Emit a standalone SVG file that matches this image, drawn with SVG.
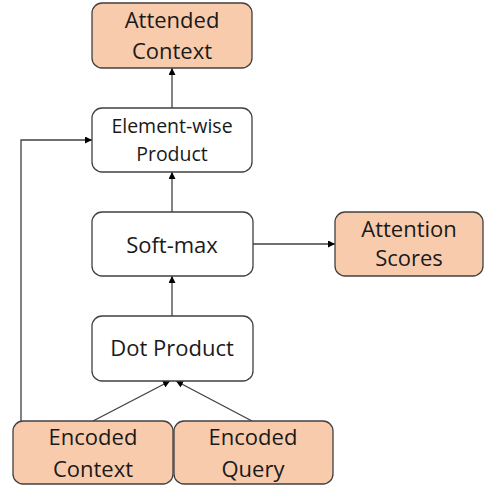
<svg xmlns="http://www.w3.org/2000/svg" width="485" height="486" viewBox="0 0 485 486">
  <style>
    .box { fill: #ffffff; stroke: #404040; stroke-width: 1.3; }
    .io { fill: #f8cbad; stroke: #404040; stroke-width: 1.3; }
    text { font-family: "Open Sans", "Noto Sans", sans-serif; fill: #1a1a1a; text-anchor: middle; }
    .t20 { font-size: 22px; }
    .t17 { font-size: 19.5px; }
    .edge { fill: none; stroke: #404040; stroke-width: 1.3; }
  </style>
  <defs>
    <marker id="arrow" viewBox="0 0 10 10" refX="10" refY="5" markerWidth="7" markerHeight="7" markerUnits="userSpaceOnUse" orient="auto">
      <path d="M0,0 L10,5 L0,10 Z" fill="#000"/>
    </marker>
  </defs>

  <g id="connectors">
    <line class="edge" x1="172" y1="108" x2="172" y2="68" marker-end="url(#arrow)"/>
    <line class="edge" x1="172" y1="212" x2="172" y2="172" marker-end="url(#arrow)"/>
    <line class="edge" x1="172" y1="316" x2="172" y2="276" marker-end="url(#arrow)"/>
    <line class="edge" x1="253" y1="244" x2="335" y2="244" marker-end="url(#arrow)"/>
    <polyline class="edge" points="21,421 21,140 92,140" marker-end="url(#arrow)"/>
    <line class="edge" x1="93" y1="421" x2="170" y2="381" marker-end="url(#arrow)"/>
    <line class="edge" x1="252" y1="421" x2="176" y2="381" marker-end="url(#arrow)"/>
  </g>

  <g id="attended-context">
    <rect class="io" x="92" y="3" width="160" height="65" rx="10"/>
    <text class="t20" x="172" y="28">Attended</text>
    <text class="t20" x="172" y="59">Context</text>
  </g>

  <g id="element-wise-product">
    <rect class="box" x="92" y="108" width="160" height="64" rx="10"/>
    <text class="t17" x="172" y="133">Element-wise</text>
    <text class="t17" x="172" y="161">Product</text>
  </g>

  <g id="soft-max">
    <rect class="box" x="92" y="212" width="161" height="64" rx="10"/>
    <text class="t20" x="172" y="253">Soft-max</text>
  </g>

  <g id="attention-scores">
    <rect class="io" x="335" y="212" width="148" height="64" rx="10"/>
    <text class="t20" x="409" y="237">Attention</text>
    <text class="t20" x="409" y="266">Scores</text>
  </g>

  <g id="dot-product">
    <rect class="box" x="92" y="316" width="161" height="65" rx="10"/>
    <text class="t20" x="172" y="356">Dot Product</text>
  </g>

  <g id="encoded-context">
    <rect class="io" x="13" y="421" width="160" height="63" rx="10"/>
    <text class="t20" x="93" y="445">Encoded</text>
    <text class="t20" x="93" y="477">Context</text>
  </g>

  <g id="encoded-query">
    <rect class="io" x="174" y="421" width="159" height="63" rx="10"/>
    <text class="t20" x="253" y="445">Encoded</text>
    <text class="t20" x="253" y="477">Query</text>
  </g>
</svg>
